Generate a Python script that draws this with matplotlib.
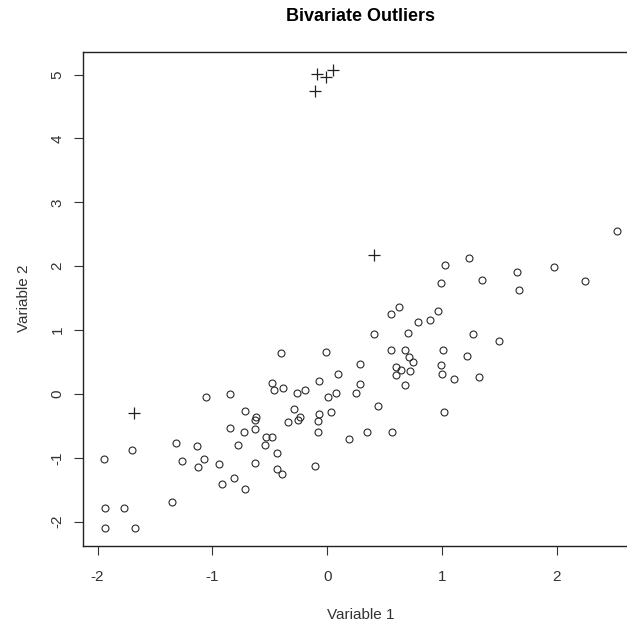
import matplotlib
matplotlib.use("Agg")
import matplotlib.pyplot as plt
import matplotlib.transforms as mtransforms
import numpy as np

plt.rcParams['font.family'] = ['Liberation Sans', 'DejaVu Sans']

# Bulk of the sample (open circles)
var1 = [-0.403, -0.007, -0.478, -0.460, -0.385, -0.263, -0.190, -0.068, 0.010, 0.033,
        -1.056, -0.847, -0.716, -0.617, -0.629, -0.629, -0.847, -0.725, -0.286, -0.240,
        -0.251, -0.338, -0.071, -0.077, -0.077, -0.533, -0.478, -0.539, -0.774, -0.434,
        -0.629, -0.434, -0.396, -0.109, -0.809, -0.913, -0.716, -0.943, -1.070, -1.126,
        -1.135, -1.265, -1.314, -1.352, -1.701, -1.945, -1.936, -1.771, -1.936, -1.675,
        1.024, 1.233, 1.654, 1.977, 1.348, 0.989, 1.669, 0.629, 0.559, 0.963,
        0.899, 0.786, 0.411, 0.707, 1.265, 1.495, 0.551, 0.675, 1.007, 0.716,
        0.745, 1.213, 0.289, 0.596, 0.638, 0.719, 0.597, 0.989, 0.998, 0.092,
        0.283, 0.675, 1.102, 1.320, 0.080, 0.254, 0.440, 1.013, 0.187, 0.344,
        0.562, 2.526, 2.244]
var2 = [0.647, 0.662, 0.177, 0.067, 0.099, 0.020, 0.067, 0.208, -0.042, -0.288,
        -0.042, -0.006, -0.262, -0.355, -0.402, -0.543, -0.527, -0.590, -0.230, -0.355,
        -0.402, -0.434, -0.319, -0.418, -0.590, -0.668, -0.668, -0.793, -0.793, -0.919,
        -1.076, -1.180, -1.253, -1.123, -1.311, -1.405, -1.483, -1.092, -1.014, -1.139,
        -0.810, -1.045, -0.762, -1.691, -0.872, -1.013, -1.780, -1.780, -2.094, -2.094,
        2.014, 2.124, 1.905, 1.983, 1.779, 1.732, 1.622, 1.356, 1.246, 1.293,
        1.163, 1.120, 0.933, 0.949, 0.933, 0.824, 0.683, 0.683, 0.683, 0.573,
        0.506, 0.589, 0.464, 0.417, 0.370, 0.365, 0.291, 0.448, 0.318, 0.318,
        0.161, 0.146, 0.229, 0.261, 0.020, 0.010, -0.183, -0.277, -0.700, -0.590,
        -0.590, 2.546, 1.775]

# Flagged outliers (plus signs)
out1 = [-1.686, 0.405, -0.089, -0.007, 0.051, -0.103]
out2 = [-0.298, 2.170, 5.011, 4.969, 5.074, 4.748]

x_ticks = [-2, -1, 0, 1, 2]
y_ticks = [-2, -1, 0, 1, 2, 3, 4, 5]

W = H = 627
fig = plt.figure(figsize=(W / 100, H / 100), dpi=100)
fig.patch.set_facecolor('white')

# Plot region (extends slightly past the right edge of the canvas)
left_px, right_px, top_px, bottom_px = 83.3, 637.9, 51.5, 546.0
ax = fig.add_axes([left_px / W, 1 - bottom_px / H,
                   (right_px - left_px) / W, (bottom_px - top_px) / H])

ax.plot(var1, var2, linestyle='none', marker='o', markersize=5.0,
        markerfacecolor='none', markeredgecolor='#2a2a2a', markeredgewidth=0.8)
ax.plot(out1, out2, linestyle='none', marker='+', markersize=9,
        color='#222222', markeredgewidth=0.9)

# R-style 4% padding around the data range
allx = np.concatenate([var1, out1])
ally = np.concatenate([var2, out2])
dx = 0.04 * (allx.max() - allx.min())
dy = 0.04 * (ally.max() - ally.min())
ax.set_xlim(allx.min() - dx, allx.max() + dx)
ax.set_ylim(ally.min() - dy, ally.max() + dy)

ax.set_xticks(x_ticks)
ax.set_yticks(y_ticks)
ax.set_xticklabels([str(v) if v >= 0 else '-' + str(-v) for v in x_ticks])
ax.set_yticklabels([str(v) if v >= 0 else '-' + str(-v) for v in y_ticks],
                   rotation=90, va='center')

text_col = '#333333'
ax.tick_params(axis='both', direction='out', length=6.5, width=0.8,
               colors='#333333', labelsize=11, labelcolor=text_col)
ax.tick_params(axis='x', pad=11)
ax.tick_params(axis='y', pad=7)
for s in ax.spines.values():
    s.set_linewidth(1.0)
    s.set_color('#222222')

ax.set_title('Bivariate Outliers', fontsize=13, fontweight='bold',
             color='black', pad=22)

trans_x = mtransforms.blended_transform_factory(ax.transAxes, fig.transFigure)
ax.set_xlabel('Variable 1', fontsize=11, color=text_col)
ax.xaxis.set_label_coords(0.5, 1 - 608 / H, transform=trans_x)

trans_y = mtransforms.blended_transform_factory(fig.transFigure, ax.transAxes)
ax.set_ylabel('Variable 2', fontsize=11, color=text_col)
ax.yaxis.set_label_coords(31 / W, 0.5, transform=trans_y)

fig.savefig('out.png', dpi=100, facecolor='white')
